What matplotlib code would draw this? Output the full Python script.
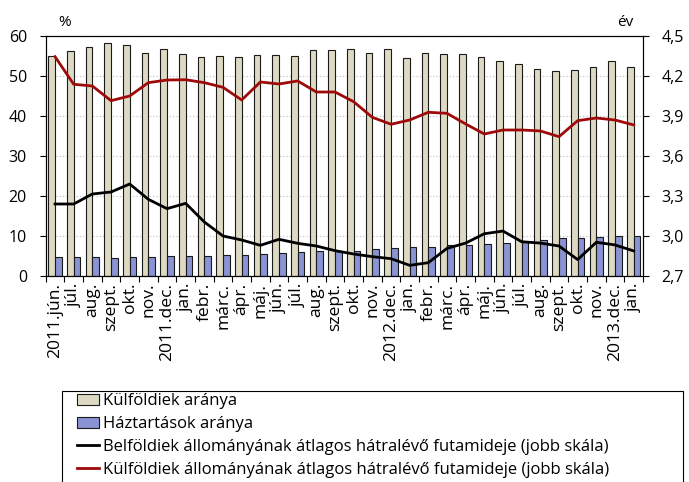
import numpy as np
import matplotlib
matplotlib.use("Agg")
import matplotlib.pyplot as plt
from matplotlib.patches import Patch, Rectangle
from matplotlib.lines import Line2D

plt.rcParams['font.family'] = ['Open Sans', 'DejaVu Sans']

# havi kategóriák
honapok = ['2011.jún.', 'júl.', 'aug.', 'szept.', 'okt.', 'nov.', '2011.dec.', 'jan.',
           'febr.', 'márc.', 'ápr.', 'máj.', 'jún.', 'júl.', 'aug.', 'szept.', 'okt.',
           'nov.', '2012.dec.', 'jan.', 'febr.', 'márc.', 'ápr.', 'máj.', 'jún.', 'júl.',
           'aug.', 'szept.', 'okt.', 'nov.', '2013.dec.', 'jan.']

# bal skála, %
kulfoldiek_aranya = [55.0, 56.3, 57.2, 58.2, 57.7, 55.8, 56.7, 55.6, 54.8, 55.1, 54.7,
                     55.2, 55.2, 55.0, 56.6, 56.4, 56.7, 55.7, 56.7, 54.4, 55.7, 55.4,
                     55.4, 54.8, 53.7, 52.9, 51.8, 51.2, 51.4, 52.3, 53.8, 52.2]
haztartasok_aranya = [4.75, 4.75, 4.7, 4.6, 4.75, 4.85, 4.9, 4.9, 5.1, 5.15, 5.35, 5.45,
                      5.65, 5.95, 6.2, 6.25, 6.35, 6.7, 7.05, 7.2, 7.35, 7.75, 7.85, 7.95,
                      8.25, 8.6, 9.0, 9.5, 9.5, 9.7, 10.05, 10.1]

# jobb skála, év
belfoldi_futamido = [3.24, 3.24, 3.315, 3.33, 3.39, 3.275, 3.205, 3.245, 3.105, 3.0, 2.97,
                     2.93, 2.975, 2.945, 2.925, 2.89, 2.865, 2.845, 2.83, 2.78, 2.80, 2.907,
                     2.947, 3.017, 3.037, 2.957, 2.947, 2.925, 2.823, 2.953, 2.933, 2.888]
kulfoldi_futamido = [4.345, 4.138, 4.125, 4.015, 4.05, 4.15, 4.17, 4.172, 4.15, 4.115, 4.02,
                     4.155, 4.14, 4.163, 4.08, 4.08, 4.007, 3.89, 3.838, 3.87, 3.928, 3.92,
                     3.84, 3.765, 3.795, 3.795, 3.788, 3.745, 3.865, 3.885, 3.87, 3.833]

bal_tick = [0, 10, 20, 30, 40, 50, 60]
jobb_tick = [2.7, 3.0, 3.3, 3.6, 3.9, 4.2, 4.5]

BEIGE = '#DDD9C3'
KEK = '#8A93D3'
PIROS = '#9E0A0A'
W, H = 689, 482

fig = plt.figure(figsize=(6.89, 4.82), dpi=100)
ax = fig.add_axes([45.7 / W, 1 - 276 / H, (643 - 45.7) / W, 240 / H])
x = np.arange(len(honapok))
w = 0.36

ax.bar(x - w / 2, kulfoldiek_aranya, w, color=BEIGE, edgecolor='#1a1a1a', linewidth=0.8)
ax.bar(x + w / 2, haztartasok_aranya, w, color=KEK, edgecolor='#1a1a1a', linewidth=0.8)
ax.set_xlim(-0.5, len(honapok) - 0.5)
ax.set_ylim(0, 60)
ax.set_yticks(bal_tick)
ax.set_axisbelow(True)
ax.yaxis.grid(True, linestyle=(0, (1, 2)), color='#BBBBBB', linewidth=0.8)
ax.set_xticks(x)
ax.set_xticklabels(honapok, rotation=90, fontsize=12.6)
ax.set_xticks(np.arange(-0.5, len(honapok), 1), minor=True)
ax.tick_params(axis='x', which='major', length=0, pad=5)
ax.tick_params(axis='x', which='minor', length=4, direction='out', width=0.8)
ax.tick_params(axis='y', length=4, direction='out', labelsize=11.5, width=0.8, pad=9.5)
for s in ax.spines.values():
    s.set_linewidth(0.8)

ax2 = ax.twinx()
ax2.plot(x, belfoldi_futamido, color='black', linewidth=2)
ax2.plot(x, kulfoldi_futamido, color=PIROS, linewidth=2)
ax2.set_ylim(2.7, 4.5)
ax2.set_yticks(jobb_tick)
ax2.set_yticklabels([('%.1f' % v).replace('.', ',') for v in jobb_tick])
ax2.tick_params(axis='y', length=4, direction='out', labelsize=11.5, width=0.8, pad=9.5)

fig.text(65 / W, 1 - 22 / H, '%', fontsize=11, ha='center', va='center')
fig.text(625 / W, 1 - 22 / H, 'év', fontsize=11, ha='center', va='center')

# jelmagyarázat kerete
fig.patches.append(Rectangle((62 / W, -0.05), (683 - 62) / W, 1 - 391 / H + 0.05,
                             transform=fig.transFigure, facecolor='white',
                             edgecolor='black', linewidth=0.8, zorder=0))

handles = [Patch(facecolor=BEIGE, edgecolor='#1a1a1a', linewidth=0.8),
           Patch(facecolor=KEK, edgecolor='#1a1a1a', linewidth=0.8),
           Line2D([], [], color='black', linewidth=2),
           Line2D([], [], color=PIROS, linewidth=2)]
labels = ['Külföldiek aránya', 'Háztartások aránya',
          'Belföldiek állományának átlagos hátralévő futamideje (jobb skála)',
          'Külföldiek állományának átlagos hátralévő futamideje (jobb skála)']
fig.legend(handles, labels, loc='upper left', bbox_to_anchor=(77 / W, 1 - 393 / H),
           fontsize=12.0, frameon=False, borderpad=0, labelspacing=0.42,
           handlelength=1.32, handleheight=0.62, handletextpad=0.25, borderaxespad=0)

fig.savefig('out.png', dpi=100)
